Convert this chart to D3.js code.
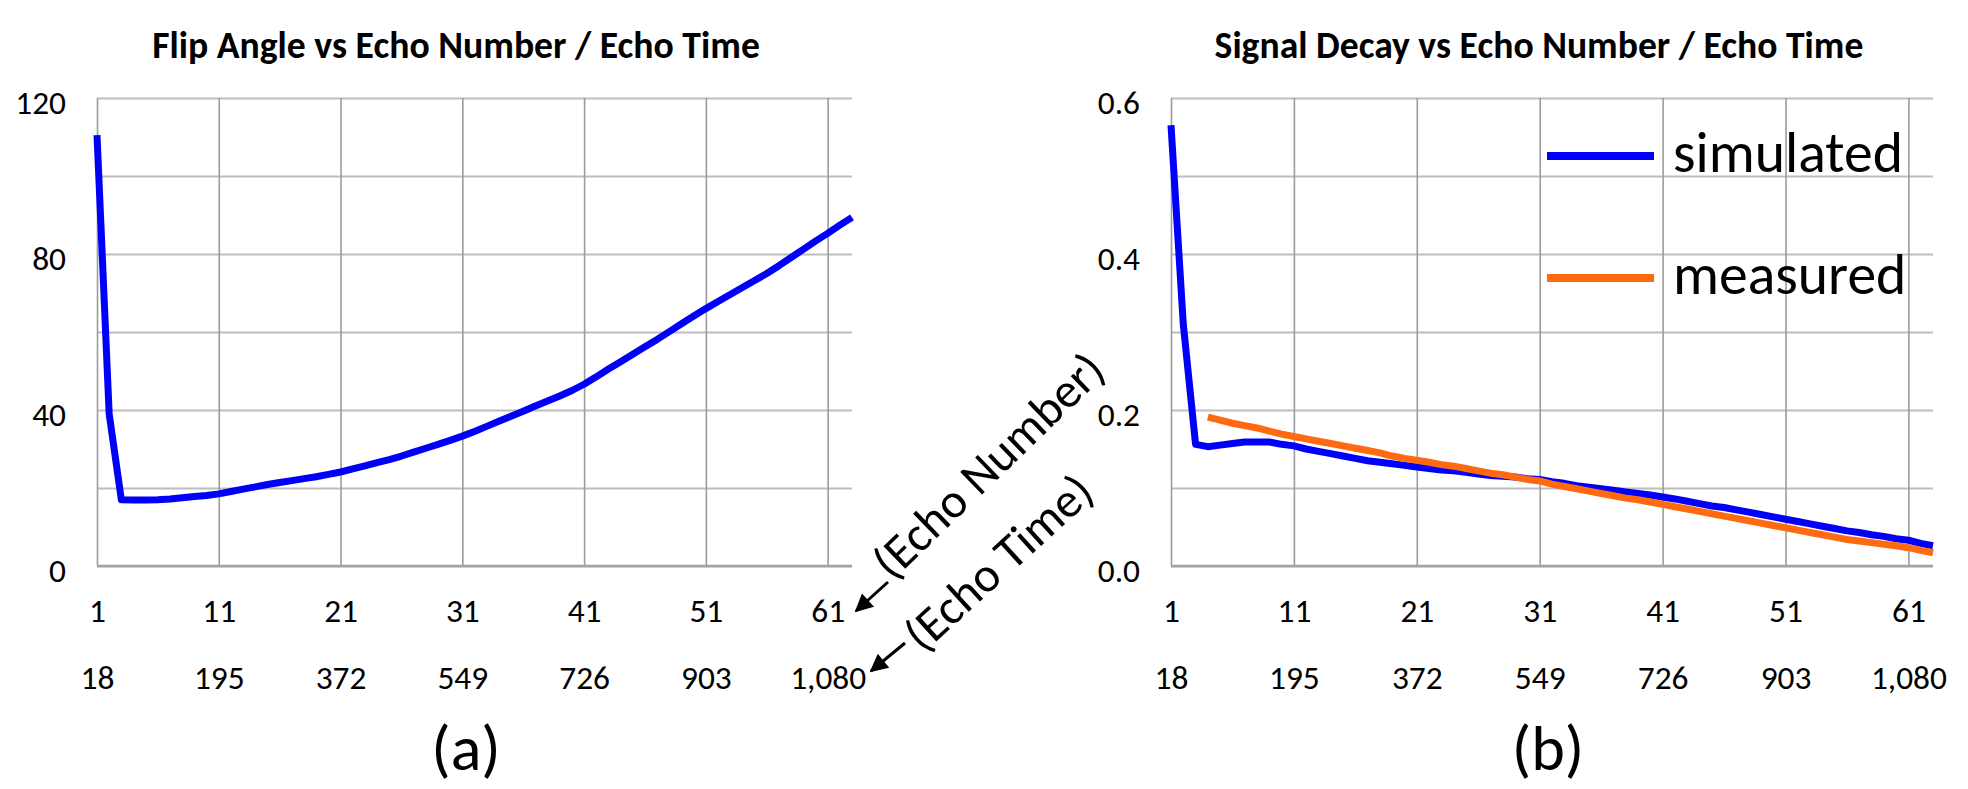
<!DOCTYPE html>
<html>
<head>
<meta charset="utf-8">
<script src="https://cdn.jsdelivr.net/npm/d3@7"></script>
<style>
  html, body { margin: 0; padding: 0; background: #ffffff; }
  svg { display: block; }
</style>
</head>
<body>
<svg id="chart" width="1968" height="789"></svg>
<script>
// ---------------- DATA ----------------
const echoNumbers = [1,2,3,4,5,6,7,8,9,10,11,12,13,14,15,16,17,18,19,20,21,22,23,24,25,26,27,28,29,30,
  31,32,33,34,35,36,37,38,39,40,41,42,43,44,45,46,47,48,49,50,51,52,53,54,55,56,57,58,59,60,61,62,63];
const echoNumberTicks = [1, 11, 21, 31, 41, 51, 61];
const echoTimeTickLabels = ["18", "195", "372", "549", "726", "903", "1,080"];

const flipAngle = [110.5, 39, 17, 16.9, 16.9, 17.0, 17.2, 17.5, 17.8, 18.1,
  18.5, 19.1, 19.7, 20.3, 20.9, 21.4, 21.9, 22.4, 22.9, 23.5,
  24.1, 24.9, 25.7, 26.5, 27.3, 28.2, 29.2, 30.2, 31.2, 32.2,
  33.3, 34.5, 35.8, 37.1, 38.4, 39.7, 41.0, 42.3, 43.6, 45.0,
  46.6, 48.5, 50.5, 52.4, 54.3, 56.2, 58.1, 60.1, 62.1, 64.1,
  66.0, 67.8, 69.6, 71.4, 73.2, 75.0, 77.0, 79.1, 81.2, 83.3,
  85.3, 87.4, 89.4];

const signalSimulated = [0.565, 0.31, 0.156, 0.153, 0.155, 0.157, 0.159, 0.159, 0.159, 0.156,
  0.154, 0.150, 0.147, 0.144, 0.141, 0.138, 0.135, 0.133, 0.131, 0.129,
  0.127, 0.125, 0.123, 0.122, 0.120, 0.118, 0.116, 0.115, 0.114, 0.112,
  0.111, 0.108, 0.106, 0.103, 0.101, 0.099, 0.097, 0.095, 0.093, 0.091,
  0.0885, 0.086, 0.083, 0.080, 0.077, 0.075, 0.072, 0.069, 0.066, 0.063,
  0.060, 0.057, 0.054, 0.051, 0.048, 0.045, 0.043, 0.040, 0.038, 0.035,
  0.033, 0.029, 0.026];

const signalMeasured = [null, null, null, 0.191, 0.187, 0.183, 0.180, 0.177, 0.173, 0.169,
  0.166, 0.163, 0.160, 0.157, 0.154, 0.151, 0.148, 0.145, 0.141, 0.138,
  0.1355, 0.133, 0.130, 0.128, 0.125, 0.122, 0.119, 0.117, 0.114, 0.111,
  0.109, 0.105, 0.102, 0.099, 0.096, 0.093, 0.090, 0.087, 0.085, 0.082,
  0.079, 0.076, 0.073, 0.070, 0.067, 0.064, 0.061, 0.058, 0.055, 0.052,
  0.049, 0.046, 0.043, 0.040, 0.037, 0.034, 0.032, 0.030, 0.028, 0.026,
  0.0235, 0.020, 0.017];

const flipGrid = [0, 20, 40, 60, 80, 100, 120];
const flipLabels = [0, 40, 80, 120];
const signalGrid = [0, 0.1, 0.2, 0.3, 0.4, 0.5, 0.6];
const signalLabels = [0, 0.2, 0.4, 0.6];

const titles = ["Flip Angle vs Echo Number / Echo Time", "Signal Decay vs Echo Number / Echo Time"];
const panelTags = ["(a)", "(b)"];
const legendNames = ["simulated", "measured"];
const annotationTexts = ["(Echo Number)", "(Echo Time)"];

// ---------------- STYLE / LAYOUT ----------------
const BLUE = "#0000FA";
const ORANGE = "#FF6A10";
const FONT = "Carlito, Lato, 'Liberation Sans', sans-serif";
const PLOT_TOP = 98, PLOT_BOTTOM = 566;

const svg = d3.select("#chart");

function fitWidth(t, target) {
  const w = t.node().getComputedTextLength();
  if (w > 0) t.attr("font-size", parseFloat(t.attr("font-size")) * target / w);
  return parseFloat(t.attr("font-size"));
}

// tick font size: fit "1,080" to ~76px
const probe = svg.append("text").attr("font-family", FONT).attr("font-size", 30).text("1,080");
const TICK_FS = fitWidth(probe, 76);
probe.remove();

// defs: arrow marker
svg.append("defs").append("marker")
  .attr("id", "arrowhead").attr("viewBox", "0 0 10 10")
  .attr("refX", 9).attr("refY", 5)
  .attr("markerWidth", 7).attr("markerHeight", 6)
  .attr("markerUnits", "strokeWidth")
  .attr("orient", "auto")
  .append("path").attr("d", "M0,0 L10,5 L0,10 z").attr("fill", "#000");

function panel(o) {
  const x = d3.scaleLinear().domain([echoNumbers[0], echoNumbers[echoNumbers.length - 1]]).range([o.x0, o.x1]);
  const y = d3.scaleLinear().domain(o.yDomain).range([PLOT_BOTTOM, PLOT_TOP]);
  const g = svg.append("g");

  // horizontal grid
  const hg = g.append("g").attr("transform", `translate(${o.x0},0)`)
    .call(d3.axisLeft(y).tickValues(o.grid).tickSize(-(o.x1 - o.x0)).tickFormat(""));
  hg.select(".domain").remove();
  hg.selectAll("line").attr("stroke", "#BDBDBD").attr("stroke-width", 2);

  // vertical grid
  const vg = g.append("g").attr("transform", `translate(0,${PLOT_BOTTOM})`)
    .call(d3.axisBottom(x).tickValues(echoNumberTicks).tickSize(-(PLOT_BOTTOM - PLOT_TOP)).tickFormat(""));
  vg.select(".domain").remove();
  vg.selectAll("line").attr("stroke", "#9C9C9C").attr("stroke-width", 1.6);

  // bottom axis line
  g.append("line")
    .attr("x1", o.x0).attr("x2", o.x1)
    .attr("y1", y(o.yDomain[0])).attr("y2", y(o.yDomain[0]))
    .attr("stroke", "#A2A2A2").attr("stroke-width", 2.5);

  // y labels
  const yl = g.append("g").attr("transform", `translate(${o.x0},5)`)
    .call(d3.axisLeft(y).tickValues(o.labels).tickSize(0).tickPadding(31).tickFormat(o.fmt));
  yl.select(".domain").remove();
  yl.selectAll("text").attr("font-family", FONT).attr("font-size", TICK_FS).attr("fill", "#000");

  // x labels: echo number
  const xl1 = g.append("g").attr("transform", `translate(0,${PLOT_BOTTOM})`)
    .call(d3.axisBottom(x).tickValues(echoNumberTicks).tickSize(0).tickPadding(32).tickFormat(d3.format("d")));
  xl1.select(".domain").remove();
  xl1.selectAll("text").attr("font-family", FONT).attr("font-size", TICK_FS).attr("fill", "#000");

  // x labels: echo time
  const xl2 = g.append("g").attr("transform", `translate(0,${PLOT_BOTTOM})`)
    .call(d3.axisBottom(x).tickValues(echoNumberTicks).tickSize(0).tickPadding(99)
      .tickFormat((d, i) => echoTimeTickLabels[i]));
  xl2.select(".domain").remove();
  xl2.selectAll("text").attr("font-family", FONT).attr("font-size", TICK_FS).attr("fill", "#000");

  // series
  const line = d3.line()
    .defined(d => d.v != null)
    .x(d => x(d.e))
    .y(d => y(d.v));
  o.series.forEach(s => {
    g.append("path")
      .datum(echoNumbers.map((e, i) => ({ e: e, v: s.values[i] })))
      .attr("d", line)
      .attr("fill", "none")
      .attr("stroke", s.color)
      .attr("stroke-width", 7)
      .attr("stroke-linejoin", "round")
      .attr("stroke-linecap", "butt");
  });

  // title
  const t = g.append("text")
    .attr("x", o.titleX).attr("y", 58)
    .attr("text-anchor", "middle")
    .attr("font-family", FONT).attr("font-weight", "bold").attr("font-size", 30)
    .attr("fill", "#000")
    .text(o.title);
  fitWidth(t, o.titleW);

  // panel tag
  g.append("text")
    .attr("x", o.tagX).attr("y", 770)
    .attr("text-anchor", "middle")
    .attr("font-family", FONT).attr("font-size", 64)
    .attr("fill", "#000")
    .text(o.tag);

  return { x, y, g };
}

const left = panel({
  x0: 97, x1: 852, yDomain: [0, 120], grid: flipGrid, labels: flipLabels, fmt: d3.format("d"),
  title: titles[0], titleX: 456, titleW: 608, tag: panelTags[0], tagX: 466,
  series: [{ values: flipAngle, color: BLUE }]
});

const right = panel({
  x0: 1171, x1: 1933, yDomain: [0, 0.6], grid: signalGrid, labels: signalLabels, fmt: d3.format(".1f"),
  title: titles[1], titleX: 1539, titleW: 649, tag: panelTags[1], tagX: 1548,
  series: [{ values: signalSimulated, color: BLUE }, { values: signalMeasured, color: ORANGE }]
});

// legend (right panel)
const legendColors = [BLUE, ORANGE];
const legendRowY = [156, 278];
let legendFS = null;
legendNames.forEach((name, i) => {
  svg.append("line")
    .attr("x1", 1547).attr("x2", 1654)
    .attr("y1", legendRowY[i]).attr("y2", legendRowY[i])
    .attr("stroke", legendColors[i]).attr("stroke-width", 8);
  const t = svg.append("text")
    .attr("x", 1673).attr("y", legendRowY[i] + 16)
    .attr("font-family", FONT).attr("font-size", legendFS || 52)
    .attr("fill", "#000")
    .text(name);
  if (i === 0) legendFS = fitWidth(t, 230);
});

// annotations with arrows (left panel, pointing at the two x-label rows)
const annotations = [
  { text: annotationTexts[0], cx: 989, cy: 466, rot: -44, tail: [888, 582], tip: [856, 611] },
  { text: annotationTexts[1], cx: 999, cy: 563, rot: -42.3, tail: [905, 643], tip: [871, 671] }
];
let annFS = null;
annotations.forEach((a, i) => {
  svg.append("line")
    .attr("x1", a.tail[0]).attr("y1", a.tail[1])
    .attr("x2", a.tip[0]).attr("y2", a.tip[1])
    .attr("stroke", "#000").attr("stroke-width", 3)
    .attr("marker-end", "url(#arrowhead)");
  const t = svg.append("text")
    .attr("transform", `translate(${a.cx},${a.cy}) rotate(${a.rot})`)
    .attr("text-anchor", "middle")
    .attr("dy", "0.32em")
    .attr("font-family", FONT).attr("font-size", annFS || 46)
    .attr("fill", "#000")
    .text(a.text);
  if (i === 0) annFS = fitWidth(t, 300);
});
</script>
</body>
</html>
